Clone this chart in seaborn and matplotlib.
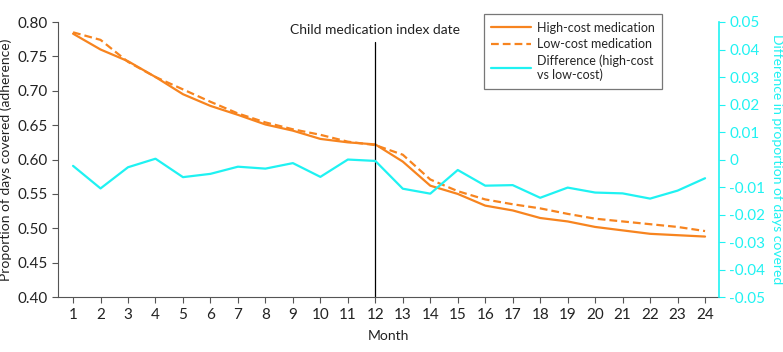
import numpy as np
import pandas as pd
import matplotlib
matplotlib.use("Agg")
import matplotlib.pyplot as plt
import seaborn as sns

sns.set_style("ticks")
plt.rcParams['font.family'] = ['Lato', 'DejaVu Sans']
plt.rcParams['axes.unicode_minus'] = False

# data
months = list(range(1, 25))
high_cost = [0.783, 0.760, 0.743, 0.720, 0.695, 0.678, 0.665, 0.651, 0.642, 0.630,
             0.625, 0.622, 0.597, 0.562, 0.550, 0.533, 0.526, 0.515, 0.510, 0.502,
             0.497, 0.492, 0.490, 0.488]
low_cost = [0.785, 0.774, 0.742, 0.720, 0.702, 0.684, 0.667, 0.654, 0.644, 0.636,
            0.626, 0.621, 0.607, 0.571, 0.554, 0.542, 0.535, 0.529, 0.521, 0.514,
            0.510, 0.506, 0.502, 0.496]
difference = [-0.0023, -0.0105, -0.0028, 0.0003, -0.0064, -0.0052, -0.0026, -0.0033,
              -0.0013, -0.0063, 0.0000, -0.0005, -0.0106, -0.0124, -0.0038, -0.0095,
              -0.0093, -0.0139, -0.0102, -0.0120, -0.0123, -0.0142, -0.0113, -0.0068]

left_ticks = [0.40, 0.45, 0.50, 0.55, 0.60, 0.65, 0.70, 0.75, 0.80]
right_ticks = [-0.05, -0.04, -0.03, -0.02, -0.01, 0, 0.01, 0.02, 0.03, 0.04, 0.05]
right_labels = ["-0.05", "-0.04", "-0.03", "-0.02", "-0.01", "0",
                "0.01", "0.02", "0.03", "0.04", "0.05"]

ORANGE = "#f7841f"
CYAN = "#1ff2f2"
GREY = "#555555"
TEXT = "#222222"

df = pd.DataFrame({"month": months, "high": high_cost, "low": low_cost, "diff": difference})

fig = plt.figure(figsize=(7.83, 3.52), dpi=100)
ax = fig.add_axes([0.074, 0.156, 0.844, 0.7815])
ax2 = ax.twinx()

sns.lineplot(data=df, x="month", y="high", ax=ax, color=ORANGE, lw=1.6,
             label="High-cost medication", legend=False)
sns.lineplot(data=df, x="month", y="low", ax=ax, color=ORANGE, lw=1.6,
             linestyle=(0, (3.5, 1.8)), label="Low-cost medication", legend=False)
sns.lineplot(data=df, x="month", y="diff", ax=ax2, color=CYAN, lw=1.6,
             label="Difference (high-cost\nvs low-cost)", legend=False)

ax.set_xlim(0.45, 24.5)
ax.set_ylim(0.40, 0.80)
ax2.set_ylim(-0.05, 0.05)
ax.set_xticks(months)
ax.set_yticks(left_ticks)
ax.set_yticklabels([f"{t:.2f}" for t in left_ticks])
ax2.set_yticks(right_ticks)
ax2.set_yticklabels(right_labels)

# index date marker
ax.plot([12, 12], [0.40, 0.771], color="black", lw=0.9)
ax.text(12, 0.789, "Child medication index date", ha="center", va="center",
        fontsize=10, color=TEXT)

for a in (ax, ax2):
    a.spines["top"].set_visible(False)
ax.spines["right"].set_visible(False)
ax.spines["left"].set_color(GREY)
ax.spines["bottom"].set_color(GREY)
ax2.spines["left"].set_visible(False)
ax2.spines["bottom"].set_visible(False)
ax2.spines["right"].set_color(CYAN)
ax2.spines["right"].set_linewidth(1.2)

ax.tick_params(axis="both", colors=GREY, labelcolor=TEXT, labelsize=11, length=4, width=0.8)
ax2.tick_params(axis="y", colors=CYAN, labelcolor=CYAN, labelsize=11, length=4, width=0.8)

ax.set_xlabel("Month", fontsize=10, color=TEXT, labelpad=6)
ax.set_ylabel("Proportion of days covered (adherence)", fontsize=10, color=TEXT, labelpad=4)
ax2.set_ylabel("Difference in proportion of days covered", fontsize=10, color=CYAN,
               rotation=270, labelpad=13)

h1, l1 = ax.get_legend_handles_labels()
h2, l2 = ax2.get_legend_handles_labels()
leg = ax2.legend(h1 + h2, l1 + l2, loc="upper left", bbox_to_anchor=(0.644, 1.029),
                 fontsize=9, frameon=True, fancybox=False, edgecolor=GREY,
                 handlelength=3.2, handletextpad=0.45, labelspacing=0.35,
                 borderpad=0.6, borderaxespad=0)
leg.get_frame().set_linewidth(0.9)

fig.savefig("out.png", dpi=100)
